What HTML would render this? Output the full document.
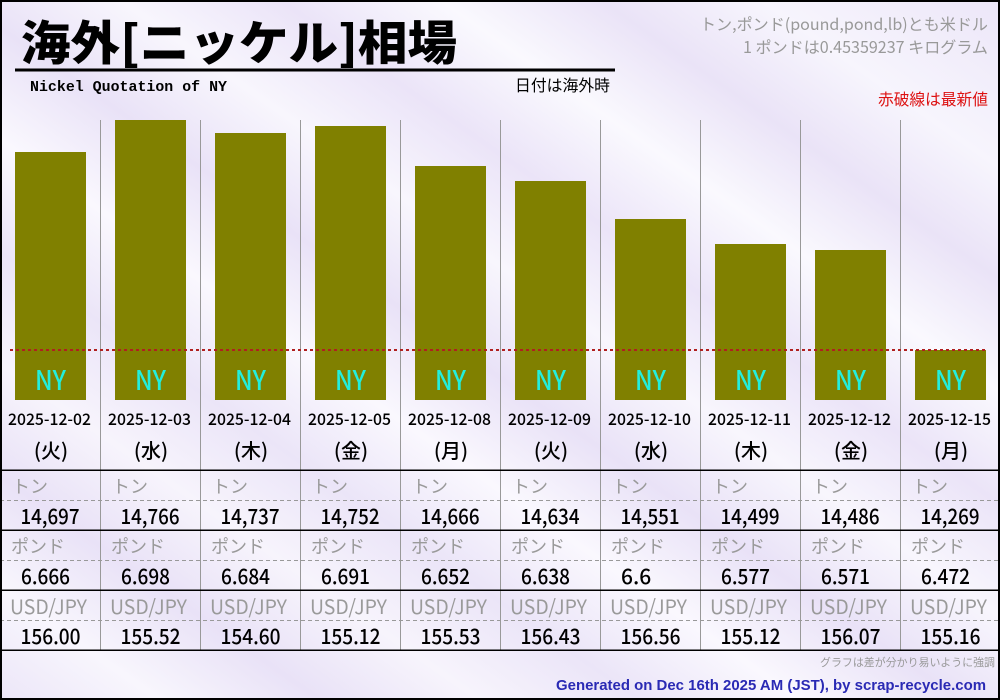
<!DOCTYPE html>
<html><head><meta charset="utf-8"><style>
html,body{margin:0;padding:0;width:1000px;height:700px;overflow:hidden;}
svg{display:block;}
</style></head><body>
<svg width="1000" height="700" viewBox="0 0 1000 700" xmlns="http://www.w3.org/2000/svg">
<defs>
<linearGradient id="bg" x1="0" y1="1" x2="1" y2="0">
<stop offset="0" stop-color="#ece6f8"/>
<stop offset="0.08" stop-color="#f8f6fd"/>
<stop offset="0.16" stop-color="#e9e2f7"/>
<stop offset="0.24" stop-color="#f7f4fc"/>
<stop offset="0.32" stop-color="#ebe5f8"/>
<stop offset="0.40" stop-color="#faf8fe"/>
<stop offset="0.48" stop-color="#e9e2f7"/>
<stop offset="0.56" stop-color="#f8f6fd"/>
<stop offset="0.64" stop-color="#ebe4f8"/>
<stop offset="0.72" stop-color="#faf9fe"/>
<stop offset="0.80" stop-color="#eae3f7"/>
<stop offset="0.88" stop-color="#f7f5fd"/>
<stop offset="1" stop-color="#ece6f8"/>
</linearGradient>
</defs>
<rect x="0" y="0" width="1000" height="700" fill="url(#bg)"/>

<!-- title -->
<text x="21" y="60" font-family="'Noto Sans CJK JP', sans-serif" font-weight="900" font-size="47" fill="#000" textLength="436" lengthAdjust="spacingAndGlyphs">海外[ニッケル]相場</text>
<rect x="15" y="68.5" width="600" height="3" fill="#000"/>
<text x="30" y="91" font-family="'Liberation Mono', monospace" font-weight="bold" font-size="15" fill="#000" textLength="197" lengthAdjust="spacingAndGlyphs">Nickel Quotation of NY</text>
<text x="515" y="91" font-family="'Noto Sans CJK JP', sans-serif" font-size="16" fill="#000" textLength="95" lengthAdjust="spacingAndGlyphs">日付は海外時</text>

<g font-family="'Noto Sans CJK JP', sans-serif" font-size="16" text-anchor="end">
<text x="988" y="30" fill="#999" textLength="288" lengthAdjust="spacingAndGlyphs">トン,ポンド(pound,pond,lb)とも米ドル</text>
<text x="988" y="53" fill="#999" textLength="245" lengthAdjust="spacingAndGlyphs">1 ポンドは0.45359237 キログラム</text>
<text x="988" y="105" fill="#dd1111" textLength="110" lengthAdjust="spacingAndGlyphs">赤破線は最新値</text>
</g>

<!-- vertical separators -->
<g stroke="#999" stroke-width="1">
<line x1="100.5" y1="120" x2="100.5" y2="650"/>
<line x1="200.5" y1="120" x2="200.5" y2="650"/>
<line x1="300.5" y1="120" x2="300.5" y2="650"/>
<line x1="400.5" y1="120" x2="400.5" y2="650"/>
<line x1="500.5" y1="120" x2="500.5" y2="650"/>
<line x1="600.5" y1="120" x2="600.5" y2="650"/>
<line x1="700.5" y1="120" x2="700.5" y2="650"/>
<line x1="800.5" y1="120" x2="800.5" y2="650"/>
<line x1="900.5" y1="120" x2="900.5" y2="650"/>
</g>

<!-- bars -->
<g fill="#808000">
<rect x="15" y="152" width="71" height="248"/>
<rect x="115" y="120" width="71" height="280"/>
<rect x="215" y="133" width="71" height="267"/>
<rect x="315" y="126" width="71" height="274"/>
<rect x="415" y="166" width="71" height="234"/>
<rect x="515" y="181" width="71" height="219"/>
<rect x="615" y="219" width="71" height="181"/>
<rect x="715" y="244" width="71" height="156"/>
<rect x="815" y="250" width="71" height="150"/>
<rect x="915" y="350" width="71" height="50"/>
</g>

<line x1="10" y1="350" x2="988" y2="350" stroke="#b02020" stroke-width="2" stroke-dasharray="3,3"/>

<g font-family="'Noto Sans CJK JP', sans-serif" font-size="27" font-weight="500" fill="#22eedd" text-anchor="middle">
<text x="50.5" y="390" textLength="31" lengthAdjust="spacingAndGlyphs">NY</text>
<text x="150.5" y="390" textLength="31" lengthAdjust="spacingAndGlyphs">NY</text>
<text x="250.5" y="390" textLength="31" lengthAdjust="spacingAndGlyphs">NY</text>
<text x="350.5" y="390" textLength="31" lengthAdjust="spacingAndGlyphs">NY</text>
<text x="450.5" y="390" textLength="31" lengthAdjust="spacingAndGlyphs">NY</text>
<text x="550.5" y="390" textLength="31" lengthAdjust="spacingAndGlyphs">NY</text>
<text x="650.5" y="390" textLength="31" lengthAdjust="spacingAndGlyphs">NY</text>
<text x="750.5" y="390" textLength="31" lengthAdjust="spacingAndGlyphs">NY</text>
<text x="850.5" y="390" textLength="31" lengthAdjust="spacingAndGlyphs">NY</text>
<text x="950.5" y="390" textLength="31" lengthAdjust="spacingAndGlyphs">NY</text>
</g>

<!-- dates -->
<g font-family="'Noto Sans CJK JP', sans-serif" font-size="16" font-weight="500" fill="#000" text-anchor="middle">
<text x="49.5" y="425" textLength="83" lengthAdjust="spacingAndGlyphs">2025-12-02</text>
<text x="149.5" y="425" textLength="83" lengthAdjust="spacingAndGlyphs">2025-12-03</text>
<text x="249.5" y="425" textLength="83" lengthAdjust="spacingAndGlyphs">2025-12-04</text>
<text x="349.5" y="425" textLength="83" lengthAdjust="spacingAndGlyphs">2025-12-05</text>
<text x="449.5" y="425" textLength="83" lengthAdjust="spacingAndGlyphs">2025-12-08</text>
<text x="549.5" y="425" textLength="83" lengthAdjust="spacingAndGlyphs">2025-12-09</text>
<text x="649.5" y="425" textLength="83" lengthAdjust="spacingAndGlyphs">2025-12-10</text>
<text x="749.5" y="425" textLength="83" lengthAdjust="spacingAndGlyphs">2025-12-11</text>
<text x="849.5" y="425" textLength="83" lengthAdjust="spacingAndGlyphs">2025-12-12</text>
<text x="949.5" y="425" textLength="83" lengthAdjust="spacingAndGlyphs">2025-12-15</text>
</g>
<g font-family="'Noto Sans CJK JP', sans-serif" font-size="20" font-weight="500" fill="#000" text-anchor="middle">
<text x="51" y="458">(火)</text>
<text x="151" y="458">(水)</text>
<text x="251" y="458">(木)</text>
<text x="351" y="458">(金)</text>
<text x="451" y="458">(月)</text>
<text x="551" y="458">(火)</text>
<text x="651" y="458">(水)</text>
<text x="751" y="458">(木)</text>
<text x="851" y="458">(金)</text>
<text x="951" y="458">(月)</text>
</g>

<!-- table lines -->
<g fill="#000">
<rect x="0" y="469.5" width="1000" height="1.5"/>
<rect x="0" y="529.5" width="1000" height="1.5"/>
<rect x="0" y="589.5" width="1000" height="1.5"/>
<rect x="0" y="649.5" width="1000" height="1.5"/>
</g>
<g stroke="#999" stroke-width="1" stroke-dasharray="4,3">
<line x1="0" y1="500.5" x2="1000" y2="500.5"/>
<line x1="0" y1="560.5" x2="1000" y2="560.5"/>
<line x1="0" y1="620.5" x2="1000" y2="620.5"/>
</g>

<!-- labels -->
<g font-family="'Noto Sans CJK JP', sans-serif" font-size="18" fill="#9a9a9a">
<text x="12" y="493">トン</text><text x="112" y="493">トン</text><text x="212" y="493">トン</text><text x="312" y="493">トン</text><text x="412" y="493">トン</text><text x="512" y="493">トン</text><text x="612" y="493">トン</text><text x="712" y="493">トン</text><text x="812" y="493">トン</text><text x="912" y="493">トン</text>
<text x="11" y="553">ポンド</text><text x="111" y="553">ポンド</text><text x="211" y="553">ポンド</text><text x="311" y="553">ポンド</text><text x="411" y="553">ポンド</text><text x="511" y="553">ポンド</text><text x="611" y="553">ポンド</text><text x="711" y="553">ポンド</text><text x="811" y="553">ポンド</text><text x="911" y="553">ポンド</text>
</g>
<g font-family="'Noto Sans CJK JP', sans-serif" font-size="20" fill="#9a9a9a">
<text x="10" y="614" textLength="77" lengthAdjust="spacingAndGlyphs">USD/JPY</text>
<text x="110" y="614" textLength="77" lengthAdjust="spacingAndGlyphs">USD/JPY</text>
<text x="210" y="614" textLength="77" lengthAdjust="spacingAndGlyphs">USD/JPY</text>
<text x="310" y="614" textLength="77" lengthAdjust="spacingAndGlyphs">USD/JPY</text>
<text x="410" y="614" textLength="77" lengthAdjust="spacingAndGlyphs">USD/JPY</text>
<text x="510" y="614" textLength="77" lengthAdjust="spacingAndGlyphs">USD/JPY</text>
<text x="610" y="614" textLength="77" lengthAdjust="spacingAndGlyphs">USD/JPY</text>
<text x="710" y="614" textLength="77" lengthAdjust="spacingAndGlyphs">USD/JPY</text>
<text x="810" y="614" textLength="77" lengthAdjust="spacingAndGlyphs">USD/JPY</text>
<text x="910" y="614" textLength="77" lengthAdjust="spacingAndGlyphs">USD/JPY</text>
</g>

<!-- values -->
<g font-family="'Noto Sans CJK JP', sans-serif" font-size="21" font-weight="500" fill="#000" text-anchor="middle">
<text x="50" y="524" textLength="59" lengthAdjust="spacingAndGlyphs">14,697</text>
<text x="150" y="524" textLength="59" lengthAdjust="spacingAndGlyphs">14,766</text>
<text x="250" y="524" textLength="59" lengthAdjust="spacingAndGlyphs">14,737</text>
<text x="350" y="524" textLength="59" lengthAdjust="spacingAndGlyphs">14,752</text>
<text x="450" y="524" textLength="59" lengthAdjust="spacingAndGlyphs">14,666</text>
<text x="550" y="524" textLength="59" lengthAdjust="spacingAndGlyphs">14,634</text>
<text x="650" y="524" textLength="59" lengthAdjust="spacingAndGlyphs">14,551</text>
<text x="750" y="524" textLength="59" lengthAdjust="spacingAndGlyphs">14,499</text>
<text x="850" y="524" textLength="59" lengthAdjust="spacingAndGlyphs">14,486</text>
<text x="950" y="524" textLength="59" lengthAdjust="spacingAndGlyphs">14,269</text>
</g>
<g font-family="'Noto Sans CJK JP', sans-serif" font-size="21" font-weight="500" fill="#000">
<text x="21" y="584" textLength="49" lengthAdjust="spacingAndGlyphs">6.666</text>
<text x="121" y="584" textLength="49" lengthAdjust="spacingAndGlyphs">6.698</text>
<text x="221" y="584" textLength="49" lengthAdjust="spacingAndGlyphs">6.684</text>
<text x="321" y="584" textLength="49" lengthAdjust="spacingAndGlyphs">6.691</text>
<text x="421" y="584" textLength="49" lengthAdjust="spacingAndGlyphs">6.652</text>
<text x="521" y="584" textLength="49" lengthAdjust="spacingAndGlyphs">6.638</text>
<text x="621" y="584">6.6</text>
<text x="721" y="584" textLength="49" lengthAdjust="spacingAndGlyphs">6.577</text>
<text x="821" y="584" textLength="49" lengthAdjust="spacingAndGlyphs">6.571</text>
<text x="921" y="584" textLength="49" lengthAdjust="spacingAndGlyphs">6.472</text>
</g>
<g font-family="'Noto Sans CJK JP', sans-serif" font-size="21" font-weight="500" fill="#000" text-anchor="middle">
<text x="50.5" y="644" textLength="60" lengthAdjust="spacingAndGlyphs">156.00</text>
<text x="150.5" y="644" textLength="60" lengthAdjust="spacingAndGlyphs">155.52</text>
<text x="250.5" y="644" textLength="60" lengthAdjust="spacingAndGlyphs">154.60</text>
<text x="350.5" y="644" textLength="60" lengthAdjust="spacingAndGlyphs">155.12</text>
<text x="450.5" y="644" textLength="60" lengthAdjust="spacingAndGlyphs">155.53</text>
<text x="550.5" y="644" textLength="60" lengthAdjust="spacingAndGlyphs">156.43</text>
<text x="650.5" y="644" textLength="60" lengthAdjust="spacingAndGlyphs">156.56</text>
<text x="750.5" y="644" textLength="60" lengthAdjust="spacingAndGlyphs">155.12</text>
<text x="850.5" y="644" textLength="60" lengthAdjust="spacingAndGlyphs">156.07</text>
<text x="950.5" y="644" textLength="60" lengthAdjust="spacingAndGlyphs">155.16</text>
</g>

<!-- footer -->
<text x="995" y="666" text-anchor="end" font-family="'Noto Sans CJK JP', sans-serif" font-size="11" fill="#999" textLength="175" lengthAdjust="spacingAndGlyphs">グラフは差が分かり易いように強調</text>
<text x="986" y="690" text-anchor="end" font-family="'Liberation Sans', sans-serif" font-weight="bold" font-size="15" fill="#2a2ab4" textLength="430" lengthAdjust="spacingAndGlyphs">Generated on Dec 16th 2025 AM (JST), by scrap-recycle.com</text>

<rect x="1" y="1" width="998" height="698" fill="none" stroke="#000" stroke-width="2"/>
</svg>
</body></html>
